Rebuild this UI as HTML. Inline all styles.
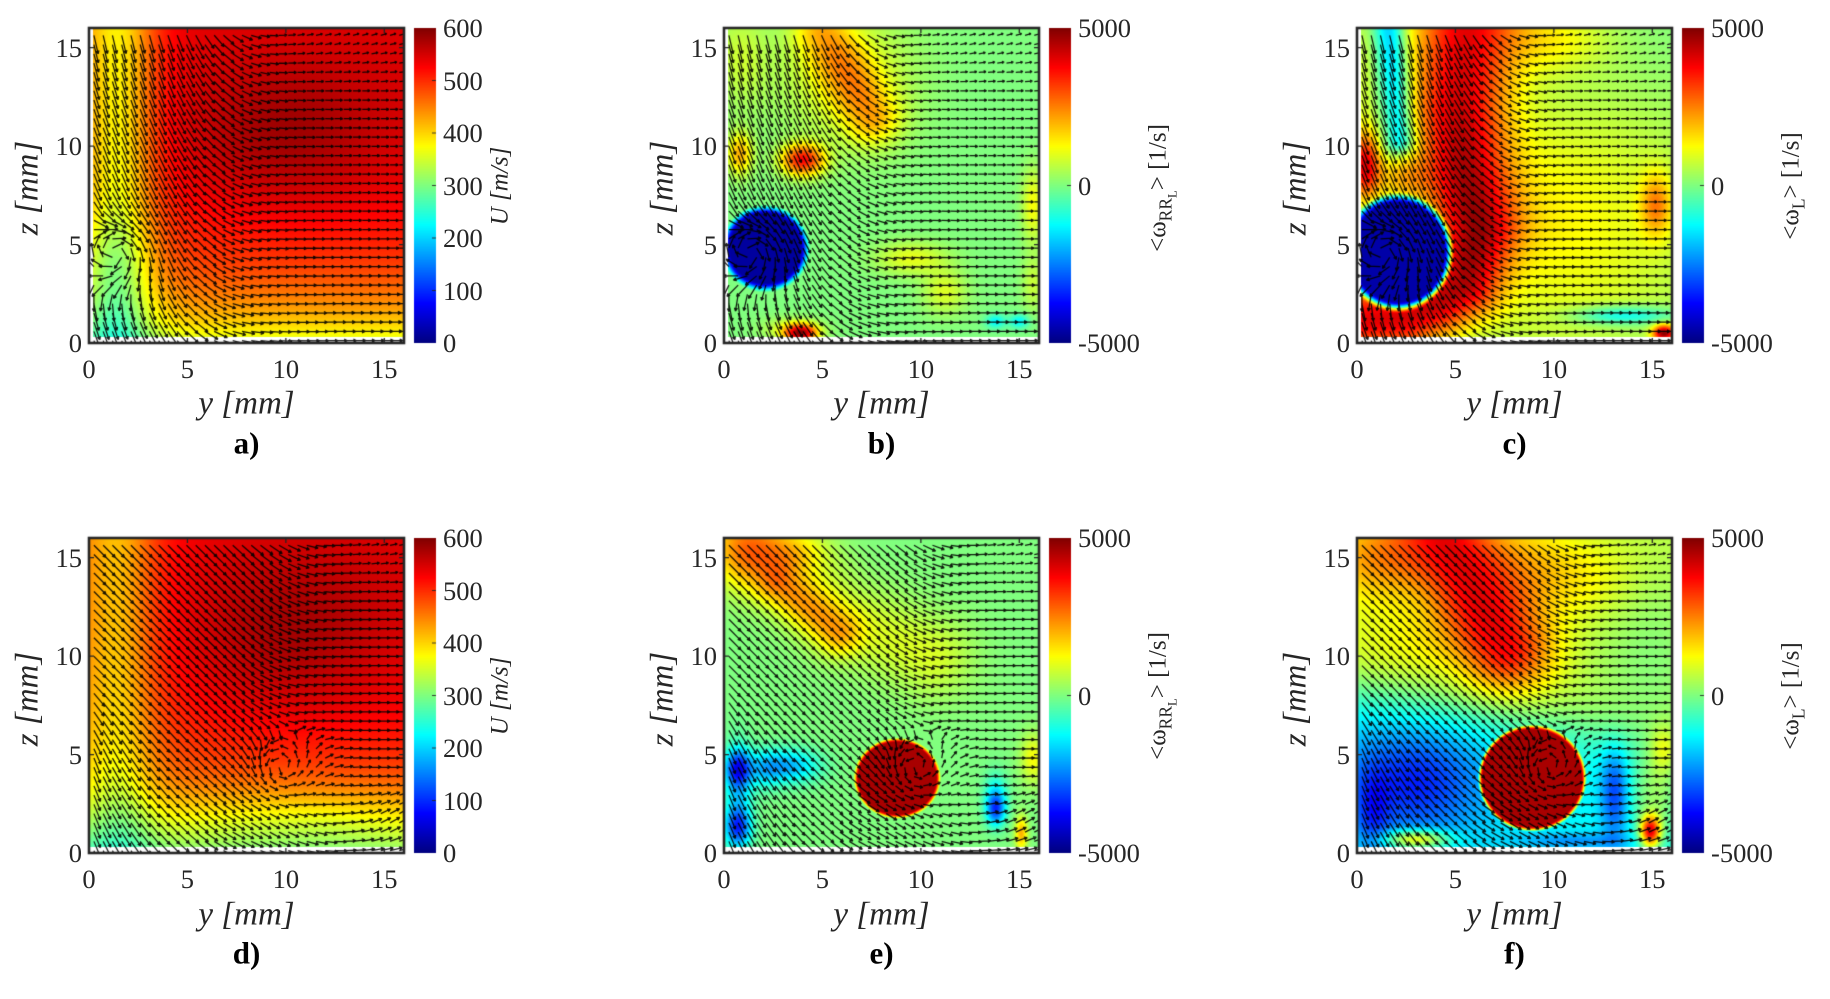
<!DOCTYPE html>
<html><head><meta charset="utf-8">
<style>
body{margin:0;background:#fff;width:1830px;height:999px;overflow:hidden;position:relative;font-family:"Liberation Serif","Times New Roman",serif;color:#262626}
#cv{position:absolute;left:0;top:0}
.t{position:absolute;line-height:1;white-space:nowrap;font-size:26.5px}
.yt{transform:translateY(-50%)}
.c{transform:translate(-50%,-50%)}
.cb{transform:translateY(-50%)}
.xl{font-size:33px;font-style:italic}
.pl{font-size:31px;font-weight:bold;color:#000}
.r{transform:translate(-50%,-50%) rotate(-90deg)}
.cl{font-size:25px}
.sb{font-size:70%;position:relative;top:0.35em}
.sb2{font-size:72%;position:relative;top:0.4em}
</style></head><body>
<canvas id="cv" width="1830" height="999"></canvas>

<div class="t yt" style="right:1748px;top:343px">0</div>
<div class="t yt" style="right:1748px;top:244.6px">5</div>
<div class="t yt" style="right:1748px;top:146.1px">10</div>
<div class="t yt" style="right:1748px;top:47.7px">15</div>
<div class="t yt" style="right:1113px;top:343px">0</div>
<div class="t yt" style="right:1113px;top:244.6px">5</div>
<div class="t yt" style="right:1113px;top:146.1px">10</div>
<div class="t yt" style="right:1113px;top:47.7px">15</div>
<div class="t yt" style="right:480px;top:343px">0</div>
<div class="t yt" style="right:480px;top:244.6px">5</div>
<div class="t yt" style="right:480px;top:146.1px">10</div>
<div class="t yt" style="right:480px;top:47.7px">15</div>
<div class="t yt" style="right:1748px;top:853px">0</div>
<div class="t yt" style="right:1748px;top:754.6px">5</div>
<div class="t yt" style="right:1748px;top:656.1px">10</div>
<div class="t yt" style="right:1748px;top:557.7px">15</div>
<div class="t yt" style="right:1113px;top:853px">0</div>
<div class="t yt" style="right:1113px;top:754.6px">5</div>
<div class="t yt" style="right:1113px;top:656.1px">10</div>
<div class="t yt" style="right:1113px;top:557.7px">15</div>
<div class="t yt" style="right:480px;top:853px">0</div>
<div class="t yt" style="right:480px;top:754.6px">5</div>
<div class="t yt" style="right:480px;top:656.1px">10</div>
<div class="t yt" style="right:480px;top:557.7px">15</div>

<div class="t c" style="left:89px;top:368.5px">0</div>
<div class="t c" style="left:187.4px;top:368.5px">5</div>
<div class="t c" style="left:285.9px;top:368.5px">10</div>
<div class="t c" style="left:384.3px;top:368.5px">15</div>
<div class="t c" style="left:724px;top:368.5px">0</div>
<div class="t c" style="left:822.4px;top:368.5px">5</div>
<div class="t c" style="left:920.9px;top:368.5px">10</div>
<div class="t c" style="left:1019.3px;top:368.5px">15</div>
<div class="t c" style="left:1357px;top:368.5px">0</div>
<div class="t c" style="left:1455.4px;top:368.5px">5</div>
<div class="t c" style="left:1553.9px;top:368.5px">10</div>
<div class="t c" style="left:1652.3px;top:368.5px">15</div>
<div class="t c" style="left:89px;top:879px">0</div>
<div class="t c" style="left:187.4px;top:879px">5</div>
<div class="t c" style="left:285.9px;top:879px">10</div>
<div class="t c" style="left:384.3px;top:879px">15</div>
<div class="t c" style="left:724px;top:879px">0</div>
<div class="t c" style="left:822.4px;top:879px">5</div>
<div class="t c" style="left:920.9px;top:879px">10</div>
<div class="t c" style="left:1019.3px;top:879px">15</div>
<div class="t c" style="left:1357px;top:879px">0</div>
<div class="t c" style="left:1455.4px;top:879px">5</div>
<div class="t c" style="left:1553.9px;top:879px">10</div>
<div class="t c" style="left:1652.3px;top:879px">15</div>

<div class="t c xl" style="left:246.5px;top:404px">y [mm]</div>
<div class="t c xl" style="left:881.5px;top:404px">y [mm]</div>
<div class="t c xl" style="left:1514.5px;top:404px">y [mm]</div>
<div class="t c xl" style="left:246.5px;top:915px">y [mm]</div>
<div class="t c xl" style="left:881.5px;top:915px">y [mm]</div>
<div class="t c xl" style="left:1514.5px;top:915px">y [mm]</div>

<div class="t c pl" style="left:246.5px;top:443px">a)</div>
<div class="t c pl" style="left:881.5px;top:443px">b)</div>
<div class="t c pl" style="left:1514.5px;top:443px">c)</div>
<div class="t c pl" style="left:246.5px;top:953px">d)</div>
<div class="t c pl" style="left:881.5px;top:953px">e)</div>
<div class="t c pl" style="left:1514.5px;top:953px">f)</div>

<div class="t r xl" style="left:28px;top:188px">z [mm]</div>
<div class="t r xl" style="left:663px;top:188px">z [mm]</div>
<div class="t r xl" style="left:1296px;top:188px">z [mm]</div>
<div class="t r xl" style="left:28px;top:699px">z [mm]</div>
<div class="t r xl" style="left:663px;top:699px">z [mm]</div>
<div class="t r xl" style="left:1296px;top:699px">z [mm]</div>

<div class="t cb" style="left:443px;top:343px">0</div>
<div class="t cb" style="left:443px;top:290.5px">100</div>
<div class="t cb" style="left:443px;top:238px">200</div>
<div class="t cb" style="left:443px;top:185.5px">300</div>
<div class="t cb" style="left:443px;top:133px">400</div>
<div class="t cb" style="left:443px;top:80.5px">500</div>
<div class="t cb" style="left:443px;top:28px">600</div>
<div class="t cb" style="left:443px;top:853px">0</div>
<div class="t cb" style="left:443px;top:800.5px">100</div>
<div class="t cb" style="left:443px;top:748px">200</div>
<div class="t cb" style="left:443px;top:695.5px">300</div>
<div class="t cb" style="left:443px;top:643px">400</div>
<div class="t cb" style="left:443px;top:590.5px">500</div>
<div class="t cb" style="left:443px;top:538px">600</div>
<div class="t cb" style="left:1078px;top:28px">5000</div>
<div class="t cb" style="left:1078px;top:185.5px">0</div>
<div class="t cb" style="left:1078px;top:343px">-5000</div>
<div class="t cb" style="left:1711px;top:28px">5000</div>
<div class="t cb" style="left:1711px;top:185.5px">0</div>
<div class="t cb" style="left:1711px;top:343px">-5000</div>
<div class="t cb" style="left:1078px;top:538px">5000</div>
<div class="t cb" style="left:1078px;top:695.5px">0</div>
<div class="t cb" style="left:1078px;top:853px">-5000</div>
<div class="t cb" style="left:1711px;top:538px">5000</div>
<div class="t cb" style="left:1711px;top:695.5px">0</div>
<div class="t cb" style="left:1711px;top:853px">-5000</div>

<div class="t r cl" style="left:500px;top:185.5px;font-style:italic">U [m/s]</div>
<div class="t r cl" style="left:500px;top:695.5px;font-style:italic">U [m/s]</div>
<div class="t r cl" style="left:1158px;top:188px">&lt;ω<span class="sb">RR<span class="sb2">L</span></span>&gt; [1/s]</div>
<div class="t r cl" style="left:1158px;top:696px">&lt;ω<span class="sb">RR<span class="sb2">L</span></span>&gt; [1/s]</div>
<div class="t r cl" style="left:1791px;top:185.5px">&lt;ω<span class="sb">L</span>&gt; [1/s]</div>
<div class="t r cl" style="left:1791px;top:696px">&lt;ω<span class="sb">L</span>&gt; [1/s]</div>

<script>
(function(){
const cv=document.getElementById('cv'),ctx=cv.getContext('2d');
const S=315,CX=[89,724,1357],RY=[28,538];
const D=Math.PI/180;
function cl(x){return x<0?0:x>1?1:x;}
function jet(t){t=cl(t);return [cl(1.5-Math.abs(4*t-3))*255,cl(1.5-Math.abs(4*t-2))*255,cl(1.5-Math.abs(4*t-1))*255];}
function G(y,z,cy,cz,sy,sz){const a=(y-cy)/sy,b=(z-cz)/sz;return Math.exp(-0.5*(a*a+b*b));}
function ss(a,b,x){const t=cl((x-a)/(b-a));return t*t*(3-2*t);}
function disk(y,z,cy,cz,ry,rz,e){const d=Math.hypot((y-cy)/ry,(z-cz)/rz);return 1-ss(1-e,1+e,d);}
function pd(y,z,P){let m=1e9;for(let i=0;i<P.length-1;i++){const ax=P[i][0],az=P[i][1],bx=P[i+1][0],bz=P[i+1][1];const dx=bx-ax,dz=bz-az;let t=((y-ax)*dx+(z-az)*dz)/(dx*dx+dz*dz);t=cl(t);const qx=ax+t*dx-y,qz=az+t*dz-z;const d=qx*qx+qz*qz;if(d<m)m=d;}return Math.sqrt(m);}
function band(y,z,P,w){const d=pd(y,z,P);return Math.exp(-0.5*d*d/(w*w));}

function fa(y,z){const fb=.64+.36*(1-Math.exp(-z/3.2));const gl=1-.25*Math.exp(-(y-1.5)*(y-1.5)/3.38)-.08*Math.exp(-y/2.5);
 return (545*fb*gl+45*G(y,z,10,10.5,3.5,2.5)-38*G(y,z,1.2,4.3,1.4,1.6)-15*G(y,z,1,1.2,1.2,1.2))/600;}
function fd(y,z){const fb=.6+.4*(1-Math.exp(-z/3.2));const gl=1-.17*Math.exp(-(y-1.5)*(y-1.5)/3.4)-.1*Math.exp(-y/4);
 return (545*fb*gl+45*G(y,z,10,11,3.5,3)-55*G(y,z,11,1.5,6,1.3))/600;}
const PB=[[5,15.8],[7.5,11.5]];
function fbb(y,z){
 let t=0.5+0.36*G(y,z,4,9.3,0.75,0.55)+0.2*G(y,z,0.8,9.6,0.45,0.75)
 +0.16*band(y,z,PB,1.0)+0.1*G(y,z,6.2,13.5,2.4,2.4)+0.07*G(y,z,0.8,14.5,1.0,1.8)
 +0.42*G(y,z,3.9,0.5,0.55,0.3)+0.1*G(y,z,3.5,0.7,1,0.4)
 +0.1*G(y,z,9.5,4.3,1.3,0.6)+0.09*G(y,z,11.2,2.6,0.8,0.8)
 +0.12*G(y,z,15.7,7,0.4,1.3)+0.07*G(y,z,15.7,3,0.4,1)
 -0.13*G(y,z,13.8,1.1,0.35,0.25)-0.13*G(y,z,15,1.1,0.35,0.25);
 const d=disk(y,z,2.1,4.8,2.05,2.0,0.14);
 return t*(1-d)+0.03*d;}
const PC=[[5.6,17],[5.1,12],[5.4,9],[6.1,5.8],[5.4,3],[4,2],[2.5,1.3],[-0.5,1.1]];
const PC2=[[1.6,16.5],[2.2,10.3]];
function fc(y,z){
 let t=0.5+0.13*G(y,z,10,6,5.5,5)+0.1*G(y,z,10,15.5,2,1.2);
 const w=1.15+0.05*z;const d0=pd(y,z,PC);
 t+=0.38*Math.exp(-0.5*d0*d0/(w*w));
 t+=0.36*G(y,z,0.4,9,0.55,1.2)+0.12*G(y,z,2.2,8.3,1,0.8);
 t-=0.22*band(y,z,PC2,0.55);
 t+=0.06*G(y,z,0.3,13.5,0.4,2.5);
 t+=0.18*G(y,z,15.2,7,0.55,1.1)+0.45*G(y,z,15.6,0.5,0.4,0.3)-0.17*G(y,z,13.5,1.4,1.8,0.35);
 const d=disk(y,z,2.1,4.6,2.6,2.8,0.12);
 return t*(1-d)+0.04*d;}
const PE1=[[2.8,13.6],[5.8,11.2]],PE2=[[1,16.5],[6,12],[10.5,10]];
function fe(y,z){
 let t=0.5+0.19*G(y,z,1.1,15.2,1.2,1.3)+0.1*G(y,z,3.5,15.3,1.2,0.8)+0.15*band(y,z,PE1,0.8)+0.09*band(y,z,PE2,1.5)
 -0.28*G(y,z,0.7,4.3,0.45,0.65)-0.25*G(y,z,0.7,1.3,0.45,0.65)-0.15*G(y,z,0.7,2.8,0.5,1.8)-0.2*G(y,z,3.2,4.4,1.1,0.6)-0.1*G(y,z,2,4.2,0.6,0.7)
 -0.25*G(y,z,13.8,2.2,0.33,0.55)-0.13*G(y,z,13.8,2.9,0.4,0.8)+0.12*G(y,z,15.7,4.8,0.45,0.9)+0.2*G(y,z,15.1,1,0.22,0.6);
 const d=disk(y,z,8.8,3.8,2.1,1.95,0.07);
 return t*(1-d)+0.96*d;}
const PF=[[4.2,17],[6,13],[7.6,10.3]];
function ff(y,z){
 const zt=8.2-0.18*y;const s=1/(1+Math.exp(-(z-zt)/0.8));
 const u=0.56+0.3*band(y,z,PF,1.6)+0.17*G(y,z,1.2,15,2,1.5)+0.06*G(y,z,3,10.5,3,1.5)-0.05*G(y,z,15,10,2,3)
  +0.1*G(y,z,8.5,14.5,1.8,1.8)+0.06*G(y,z,11.5,14,2,1.5);
 const l=0.37-0.22*G(y,z,2.8,3.6,2.6,2.0)-0.12*G(y,z,0.8,1.8,0.6,1.6)-0.2*G(y,z,13.1,3.2,0.5,1.8)+0.25*G(y,z,15.6,5.8,0.5,1)
  +0.15*G(y,z,15.2,3,1,2)+0.45*G(y,z,14.9,1.1,0.35,0.55)+0.3*G(y,z,3,0.7,1.2,0.35)-0.1*G(y,z,11,0.6,2,0.3);
 const t=s*u+(1-s)*l;
 const d=disk(y,z,8.9,3.8,2.65,2.6,0.06);
 return t*(1-d)+0.96*d;}

function flow1(y,z){
 const c=6.5+0.12*(z-8);const w=1/(1+Math.exp((y-c)/1.3));
 let th=w*(-70*D-8*D*cl((z-11)/5))+(1-w)*(18*D*cl((z-12.5)/3.5));
 let ux=Math.cos(th),uz=Math.sin(th);
 const dy=y-1.3,dz=z-4.6,r=Math.hypot(dy,dz)+1e-6;const vw=Math.exp(-r*r/(2*1.5*1.5));
 ux=(1-vw)*ux+vw*(dz/r);uz=(1-vw)*uz+vw*(-dy/r);
 const n=Math.hypot(ux,uz)+1e-9;
 let L=8+11*w+5*(1-w)*Math.exp(-z/3)-2*(1-w)*cl((z-12)/4);L*=(1-0.3*vw);
 return [ux/n,uz/n,L];}
function flow2(y,z){
 const c=9+0.25*(z-8);const w=1/(1+Math.exp((y-c)/1.2));
 let th=w*(-45*D-25*D*Math.exp(-y/2.5)*cl((9-z)/4))+(1-w)*(15*D*cl((z-13)/3));
 th+=(1-w)*Math.exp(-Math.pow((z-1.6)/1.2,2)/2)*(-30*D)*Math.cos((y-9.5)*0.5);
 let ux=Math.cos(th),uz=Math.sin(th);
 const dy=y-9.8,dz=z-4.4,r=Math.hypot(dy,dz)+1e-6;const vw=Math.exp(-r*r/(2*1.5*1.5));
 ux=(1-vw)*ux+vw*(-dz/r);uz=(1-vw)*uz+vw*(dy/r);
 const n=Math.hypot(ux,uz)+1e-9;
 let L=9+8*w+4*(1-w)*Math.exp(-z/2.5)-2*(1-w)*cl((z-12)/4);L*=(1-0.25*vw);
 return [ux/n,uz/n,L];}

const fields=[[fa,fbb,fc],[fd,fe,ff]];const flows=[flow1,flow2];
for(let r=0;r<2;r++)for(let c=0;c<3;c++){
 const X0=CX[c],Y0=RY[r],f=fields[r][c];
 const img=ctx.createImageData(S,S),data=img.data;
 for(let py=0;py<S;py++){const z=16-(py+0.5)/S*16;
  for(let px=0;px<S;px++){const y=(px+0.5)/S*16;const k=(py*S+px)*4;let col;
   if(z<0.3||(r===0&&y<0.18))col=[255,255,255];else col=jet(f(y,z));
   data[k]=col[0];data[k+1]=col[1];data[k+2]=col[2];data[k+3]=255;}}
 ctx.putImageData(img,X0,Y0);
 ctx.save();ctx.beginPath();ctx.rect(X0,Y0,S,S);ctx.clip();ctx.beginPath();
 const fl=flows[r];const ca=Math.cos(0.45),sa=Math.sin(0.45);
 for(let i=0;i<34;i++)for(let j=0;j<34;j++){
  const y=0.25+i*0.47,z=0.12+j*0.47;const v=fl(y,z);
  const dx=v[0],dy=-v[1],L=v[2];
  const x1=X0+y/16*S,y1=Y0+S-z/16*S,x2=x1+dx*L,y2=y1+dy*L;
  ctx.moveTo(x1,y1);ctx.lineTo(x2,y2);
  const h=Math.min(3.5,0.35*L),bx=-dx,by=-dy;
  ctx.moveTo(x2,y2);ctx.lineTo(x2+h*(bx*ca-by*sa),y2+h*(bx*sa+by*ca));
  ctx.moveTo(x2,y2);ctx.lineTo(x2+h*(bx*ca+by*sa),y2+h*(-bx*sa+by*ca));
 }
 ctx.strokeStyle='rgba(0,0,0,0.9)';ctx.lineWidth=1.25;ctx.stroke();ctx.restore();
 ctx.strokeStyle='#262626';ctx.lineWidth=2.6;ctx.strokeRect(X0,Y0,S,S);
 ctx.lineWidth=1.3;ctx.beginPath();
 for(const v of [5,10,15]){const p=v/16*S;
  ctx.moveTo(X0+p,Y0+S);ctx.lineTo(X0+p,Y0+S-5);ctx.moveTo(X0+p,Y0);ctx.lineTo(X0+p,Y0+5);
  ctx.moveTo(X0,Y0+S-p);ctx.lineTo(X0+5,Y0+S-p);ctx.moveTo(X0+S,Y0+S-p);ctx.lineTo(X0+S-5,Y0+S-p);}
 ctx.stroke();
 const bx0=X0+325;
 for(let py=0;py<S;py++){const col=jet(1-(py+0.5)/S);ctx.fillStyle='rgb('+(col[0]|0)+','+(col[1]|0)+','+(col[2]|0)+')';ctx.fillRect(bx0,Y0+py,22,1);}
 ctx.beginPath();ctx.lineWidth=1;ctx.strokeStyle='rgba(38,38,38,0.9)';
 const nt=(c===0)?6:2;
 for(let k=1;k<nt;k++){const yy=Y0+S-k/nt*S;ctx.moveTo(bx0+22,yy);ctx.lineTo(bx0+18,yy);}
 ctx.stroke();
}
})();
</script>
</body></html>
